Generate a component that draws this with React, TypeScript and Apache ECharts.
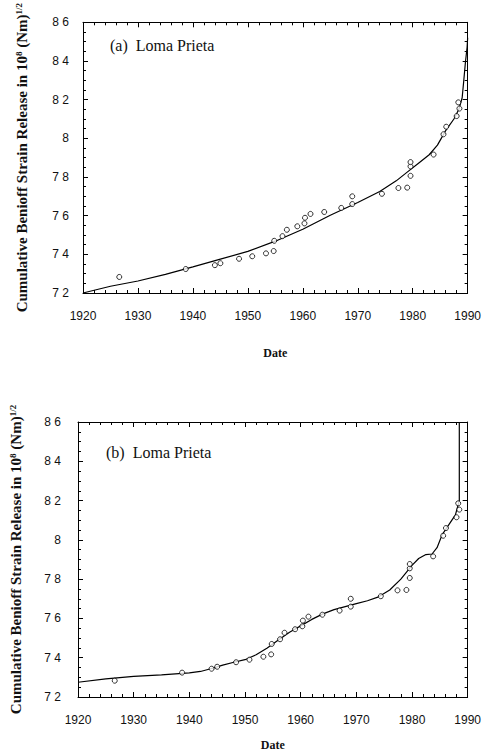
import React, { useEffect, useRef } from "react";
import * as echarts from "echarts";

// Observed events (same catalogue in both panels)
const eventYears = [
  1926.6, 1938.7, 1944.0, 1945.0, 1948.4, 1950.8, 1953.3, 1954.7, 1954.8, 1956.3,
  1957.1, 1959.0, 1960.3, 1960.4, 1961.4, 1963.9, 1967.0, 1969.0, 1969.0, 1974.4,
  1977.4, 1979.0, 1979.6, 1979.6, 1979.6, 1983.8, 1985.6, 1986.1, 1988.0, 1988.5,
  1988.3,
];
const eventValues = [
  7.283, 7.324, 7.344, 7.354, 7.377, 7.39, 7.405, 7.417, 7.47, 7.494,
  7.527, 7.545, 7.56, 7.589, 7.609, 7.619, 7.64, 7.66, 7.7, 7.713,
  7.743, 7.745, 7.806, 7.855, 7.877, 7.916, 8.021, 8.06, 8.115, 8.154,
  8.186,
];

// Fitted curve (a)
const curveAYears = [
  1920, 1925, 1930, 1935, 1940, 1945, 1950, 1955, 1960, 1965, 1970, 1974, 1977,
  1979, 1981, 1983, 1984.5, 1986, 1987.5, 1988.4, 1989.0, 1989.3, 1989.6, 1989.9, 1990,
];
const curveAValues = [
  7.2, 7.235, 7.262, 7.296, 7.335, 7.375, 7.415, 7.468, 7.53, 7.602, 7.668, 7.725, 7.78,
  7.825, 7.87, 7.915, 7.965, 8.04, 8.1, 8.15, 8.21, 8.3, 8.395, 8.47, 8.52,
];

// Fitted curve (b)
const curveBYears = [
  1920, 1925, 1930, 1935, 1940, 1942, 1944, 1946, 1948, 1950, 1952, 1954, 1956, 1958,
  1960, 1962, 1964, 1966, 1968, 1970, 1972, 1974, 1976, 1978, 1980, 1981.2, 1982.5,
  1983.6, 1984.5, 1985.4, 1986.6, 1987.8, 1988.5, 1988.5,
];
const curveBValues = [
  7.275, 7.292, 7.305, 7.313, 7.323, 7.33, 7.345, 7.362, 7.377, 7.39, 7.415, 7.45, 7.49, 7.53,
  7.562, 7.595, 7.623, 7.645, 7.66, 7.675, 7.69, 7.71, 7.745, 7.8, 7.87, 7.905, 7.925,
  7.928, 7.96, 8.025, 8.076, 8.127, 8.2, 8.6,
];

const panelTitles = ["(a)  Loma Prieta", "(b)  Loma Prieta"];
const xName = "Date";
const yName = "Cumulative Benioff Strain Release in 10{sup|8} (Nm){sup|1/2}";

const zip = (xs: number[], ys: number[]) => xs.map((x, i) => [x, ys[i]]);

const BLACK = "#111";
const lineStyle = { color: "#000", width: 1 };

function makeX(gridIndex: number, nameGap: number) {
  const common = {
    type: "value",
    gridIndex,
    min: 1920,
    max: 1990,
    interval: 10,
    splitLine: { show: false },
    axisLine: { show: true, onZero: false, lineStyle },
    axisTick: { show: true, inside: true, length: 5, lineStyle },
    minorTick: { show: true, splitNumber: 5, length: 3, lineStyle },
  };
  return [
    {
      ...common,
      position: "bottom",
      axisLabel: {
        margin: 17,
        fontFamily: "Liberation Sans",
        fontSize: 12,
        color: BLACK,
        formatter: (v: number) => String(v),
      },
      name: xName,
      nameLocation: "middle",
      nameGap,
      nameTextStyle: {
        fontFamily: "Liberation Serif",
        fontSize: 12,
        fontWeight: "bold",
        color: BLACK,
      },
    },
    { ...common, position: "top", axisLabel: { show: false } },
  ];
}

function makeY(gridIndex: number, labelMargin: number, nameGap: number) {
  const common = {
    type: "value",
    gridIndex,
    min: 7.2,
    max: 8.6,
    interval: 0.2,
    splitLine: { show: false },
    axisLine: { show: true, onZero: false, lineStyle },
    axisTick: { show: true, inside: true, length: 5, lineStyle },
    minorTick: { show: true, splitNumber: 4, length: 3, lineStyle },
  };
  return [
    {
      ...common,
      position: "left",
      axisLabel: {
        margin: labelMargin,
        fontFamily: "Liberation Sans",
        fontSize: 12,
        color: BLACK,
        formatter: (v: number) => String(Math.round(v * 10) / 10).replace(".", " "),
      },
      name: yName,
      nameLocation: "middle",
      nameGap,
      nameTextStyle: {
        fontFamily: "Liberation Serif",
        fontSize: 15,
        fontWeight: "bold",
        color: BLACK,
        rich: {
          sup: {
            fontFamily: "Liberation Serif",
            fontSize: 9,
            fontWeight: "bold",
            color: BLACK,
            verticalAlign: "top",
            padding: [0, 0, 7, 0],
          },
        },
      },
    },
    { ...common, position: "right", axisLabel: { show: false } },
  ];
}

export default function App() {
  const ref = useRef<HTMLDivElement>(null);
  useEffect(() => {
    if (!ref.current) return;
    const chart = echarts.init(ref.current, null, { renderer: "svg" });
    const titleStyle = {
      fontFamily: "Liberation Serif",
      fontSize: 16,
      fontWeight: "normal",
      color: BLACK,
    };
    const scatterStyle = {
      type: "scatter",
      symbol: "circle",
      symbolSize: 5,
      itemStyle: { color: "#fff", borderColor: "#000", borderWidth: 1 },
      z: 3,
    };
    const curveStyle = {
      type: "line",
      showSymbol: false,
      smooth: false,
      lineStyle: { color: "#000", width: 1.2 },
      z: 2,
    };
    chart.setOption({
      animation: false,
      backgroundColor: "#fff",
      title: [
        { text: panelTitles[0], left: 110, top: 37, padding: 0, textStyle: titleStyle },
        { text: panelTitles[1], left: 106, top: 444, padding: 0, textStyle: titleStyle },
      ],
      grid: [
        { left: 83, top: 18, width: 392, height: 275 },
        { left: 77, top: 422, width: 393, height: 275 },
      ],
      xAxis: [...makeX(0, 54), ...makeX(1, 42)],
      yAxis: [...makeY(0, 14, 53), ...makeY(1, 17, 54)],
      series: [
        { ...curveStyle, xAxisIndex: 0, yAxisIndex: 0, data: zip(curveAYears, curveAValues) },
        { ...scatterStyle, xAxisIndex: 0, yAxisIndex: 0, data: zip(eventYears, eventValues) },
        { ...curveStyle, xAxisIndex: 2, yAxisIndex: 2, data: zip(curveBYears, curveBValues) },
        { ...scatterStyle, xAxisIndex: 2, yAxisIndex: 2, data: zip(eventYears, eventValues) },
      ],
    });
    return () => chart.dispose();
  }, []);
  return (
    <div
      ref={ref}
      style={{ position: "absolute", left: 0, top: 0, width: 484, height: 752 }}
    />
  );
}
